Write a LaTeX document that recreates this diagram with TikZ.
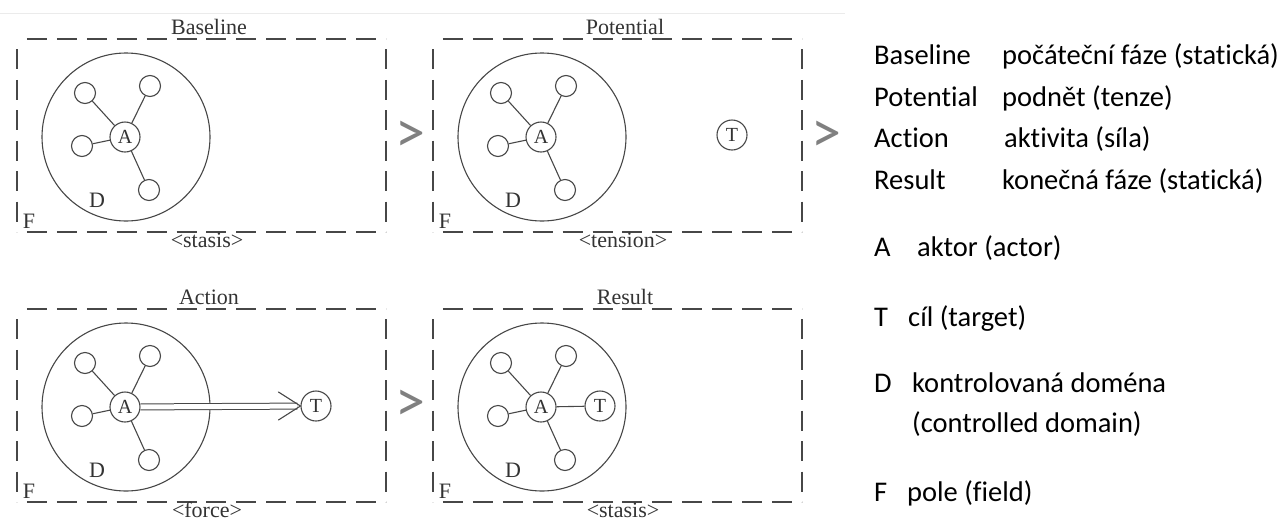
\documentclass[tikz,border=0pt]{standalone}
\usepackage{fontspec}
\setmainfont{Liberation Serif}
\newfontfamily\legendfont{Carlito}[Ligatures=NoCommon]
\usetikzlibrary{arrows.meta,positioning,decorations}

\begin{document}
\begin{tikzpicture}[x=1pt,y=-1pt,
    ink/.style={draw=black!72,line width=1.1pt},
    field/.style={ink,dash pattern=on 20pt off 9pt,dash expand off},
    ctrldomain/.style={circle,ink,minimum size=168pt,inner sep=0pt},
    actor/.style={circle,ink,fill=white,minimum size=30pt,inner sep=0pt,font=\fontsize{20}{20}\selectfont,text=black!80},
    leaf/.style={circle,ink,fill=white,minimum size=21pt,inner sep=0pt},
    lbl/.style={font=\fontsize{22}{22}\selectfont,text=black!80,inner sep=0pt},
    gt/.style={font=\legendfont\fontsize{60}{60}\selectfont,text=black!50,inner sep=0pt},
    legend/.style={font=\legendfont\fontsize{28.5}{30}\selectfont,anchor=base west,inner sep=0pt},
    force/.style={draw=black!72,line width=1pt,double distance=5pt,shorten >=3pt},
    barb/.style={ink,line cap=round,line join=round}]
  \useasboundingbox (0,0) rectangle (1288,520);
  \draw[black!8,line width=0.8pt] (0,13) -- (845,13);

  % the four phases
  \foreach \p/\bx/\by/\head/\foot in {b/17/39/Baseline/{<stasis>},
      p/433/39/Potential/{<tension>},
      a/17/309/Action/{<force>},
      r/433/309/Result/{<stasis>}}{
    \draw[field] (\bx,\by) -- ++(369,0);
    \draw[field] (\bx,\by) -- ++(0,193);
    \draw[field] (\bx+369,\by) -- ++(0,193);
    \draw[field] (\bx,\by+193) -- ++(369,0);
    \node[ctrldomain] (D\p) at (\bx+109,\by+98) {};
    \node[leaf]   (l1\p) at (\bx+68,\by+54) {};
    \node[leaf]   (l2\p) at (\bx+133,\by+47) {};
    \node[leaf]   (l3\p) at (\bx+65,\by+107) {};
    \node[leaf]   (l4\p) at (\bx+132,\by+151) {};
    \node[actor]  (A\p) at (\bx+108,\by+98) {A};
    \draw[ink] (A\p) -- (l1\p) (A\p) -- (l2\p) (A\p) -- (l3\p) (A\p) -- (l4\p);
    \node[lbl] (dl\p) at (\bx+80,\by+161) {D};
    \node[lbl] (fl\p) at (\bx+12,\by+182) {F};
    \node[lbl] (hd\p) at (\bx+192,\by-12) {\head};
    \node[lbl] (ft\p) at (\bx+190,\by+201) {\foot};
  }

  % targets
  \node[actor] (Tp) at (732,135) {T};
  \node[actor] (Ta) at (316,406) {T};
  \node[actor] (Tr) at (600,406) {T};
  \draw[force] (Aa) -- (Ta);
  \draw[barb] (Ta.west) -- ++(-22,-14) (Ta.west) -- ++(-22,14);
  \draw[ink] (Ar) -- (Tr);

  \node[gt] (gt1) at (410,137) {>};
  \node[gt] (gt2) at (410,406) {>};
  \node[gt] (gt3) at (826,137) {>};

  % legend
  \node[legend] (base) at (874,64) {Baseline};
  \node[legend] (pot)  [below=42pt of base.base west,anchor=base west] {Potential};
  \node[legend] (act)  [below=41pt of pot.base west,anchor=base west] {Action};
  \node[legend] (res)  [below=42pt of act.base west,anchor=base west] {Result};
  \node[legend] (baseX) at (1002,64) {počáteční fáze (statická)};
  \node[legend] (potX)  at (1002,106) {podnět (tenze)};
  \node[legend] (actX)  at (1004,147) {aktivita (síla)};
  \node[legend] (resX)  at (1002,189) {konečná fáze (statická)};
  \node[legend] (keyA) at (874,256) {A};
  \node[legend] (keyAX) at (917,256) {aktor (actor)};
  \node[legend] (keyT) [below=70pt of keyA.base west,anchor=base west] {T};
  \node[legend] (keyTX) at (908,326) {cíl (target)};
  \node[legend] (keyD) [below=66pt of keyT.base west,anchor=base west] {D};
  \node[legend] (keyDX) at (912,392) {kontrolovaná doména};
  \node[legend] (keyDY) [below=40pt of keyDX.base west,anchor=base west] {(controlled domain)};
  \node[legend] (keyF) at (874,501) {F};
  \node[legend] (keyFX) at (907,501) {pole (field)};
\end{tikzpicture}
\end{document}
